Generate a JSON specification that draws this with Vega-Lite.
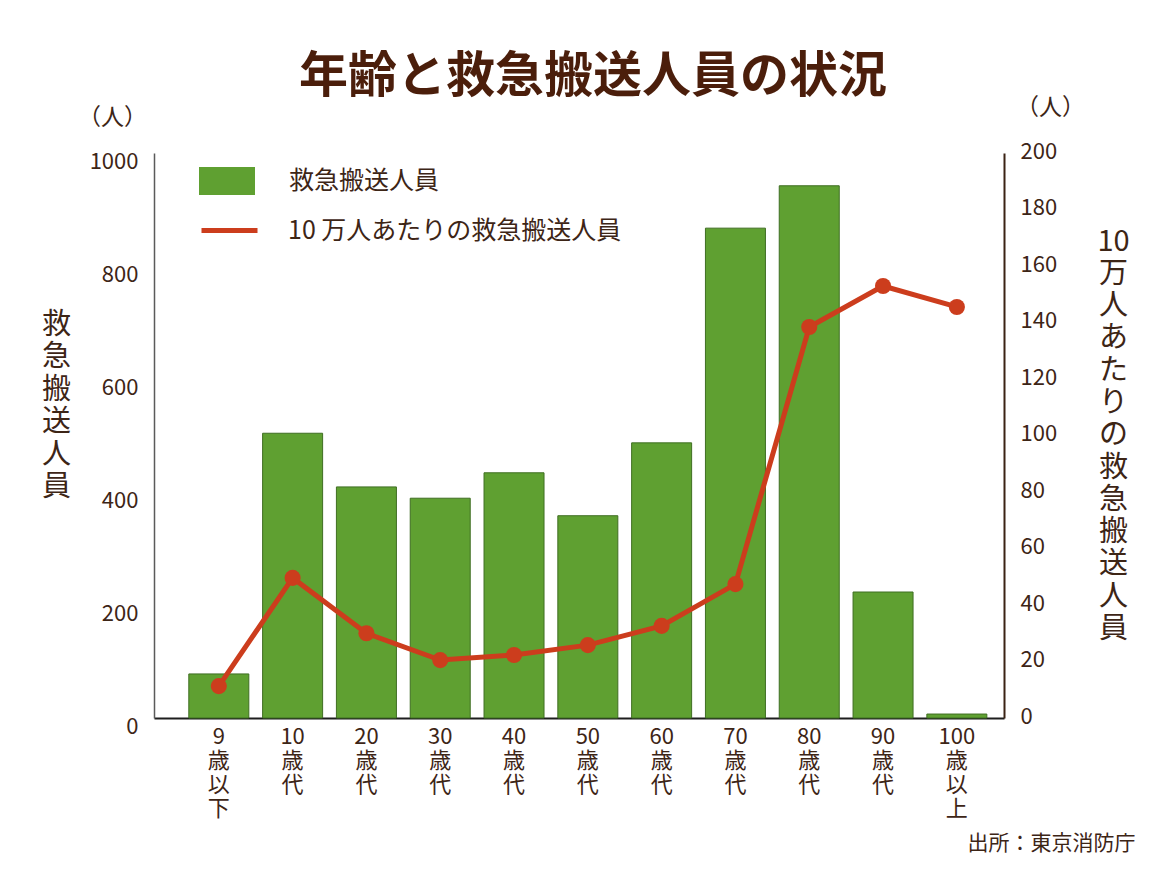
{
  "$schema": "https://vega.github.io/schema/vega-lite/v6.json",
  "width": 850,
  "height": 565,
  "autosize": {"type": "none"},
  "padding": {"left": 154, "top": 153, "right": 161, "bottom": 156},
  "background": "white",
  "config": {
    "font": "Noto Sans CJK JP",
    "view": {"stroke": null},
    "axis": {"grid": false, "ticks": false, "labelOverlap": false, "labelColor": "#3d2516", "titleColor": "#3d2516", "titleFontWeight": "normal"},
    "legend": {"labelColor": "#3d2516", "labelFontSize": 25, "labelLimit": 500, "title": null}
  },
  "title": {
    "text": "年齢と救急搬送人員の状況",
    "fontSize": 49,
    "fontWeight": "bold",
    "color": "#4b1e0b",
    "anchor": "middle",
    "dx": 14,
    "offset": -6
  },
  "data": {
    "values": [
      {"age": "9歳以下", "count": 78, "rate": 11.3},
      {"age": "10歳代", "count": 504, "rate": 49.6},
      {"age": "20歳代", "count": 409, "rate": 30},
      {"age": "30歳代", "count": 389, "rate": 20.5},
      {"age": "40歳代", "count": 434, "rate": 22.3},
      {"age": "50歳代", "count": 358, "rate": 25.8},
      {"age": "60歳代", "count": 487, "rate": 32.6},
      {"age": "70歳代", "count": 867, "rate": 47.4},
      {"age": "80歳代", "count": 942, "rate": 138.4},
      {"age": "90歳代", "count": 223, "rate": 152.9},
      {"age": "100歳以上", "count": 7, "rate": 145.5}
    ]
  },
  "encoding": {
    "x": {
      "field": "age",
      "type": "nominal",
      "sort": null,
      "scale": {"paddingInner": 0.187, "paddingOuter": 0.352, "align": 0.67},
      "axis": {
        "labelAngle": 0,
        "labelExpr": "split(replace(datum.label, regexp('([^0-9])', 'g'), '|$1'), '|')",
        "labelFontSize": 22,
        "labelLineHeight": 24,
        "labelPadding": 8,
        "labelBaseline": "top",
        "domainColor": "#1e1e1e",
        "domainWidth": 2,
        "title": "出所：東京消防庁",
        "titleFontSize": 21,
        "titleX": 981,
        "titleY": 125,
        "titleAlign": "right",
        "titleBaseline": "middle",
        "titleAnchor": null
      }
    }
  },
  "layer": [
    {
      "encoding": {
        "y": {"field": "count", "type": "quantitative", "scale": {"domain": [0, 1000], "nice": false}}
      },
      "layer": [
        {
          "mark": {"type": "bar", "strokeWidth": 0},
          "encoding": {
            "y": {
              "field": "count",
              "type": "quantitative",
              "axis": {
                "orient": "left",
                "values": [0, 200, 400, 600, 800, 1000],
                "format": "d",
                "labelFontSize": 22,
                "labelPadding": 16,
                "labelOffset": 8,
                "domainColor": "#5a5a5a",
                "domainWidth": 1.5,
                "title": "（人）",
                "titleAngle": 0,
                "titleFontSize": 23,
                "titleAlign": "center",
                "titleBaseline": "middle",
                "titleX": -42,
                "titleY": -36
              }
            },
            "fill": {
              "datum": "救急搬送人員",
              "type": "nominal",
              "scale": {"domain": ["救急搬送人員"], "range": ["#5fa031"]},
              "legend": {
                "orient": "none",
                "legendX": 59,
                "legendY": 14,
                "symbolType": "M-2,-1H2V1H-2Z",
                "symbolSize": 784,
                "symbolStrokeWidth": 0,
                "symbolOpacity": 1,
                "labelOffset": 48
              }
            }
          }
        },
        {
          "mark": {"type": "bar", "filled": false, "stroke": "#3f6e22", "strokeWidth": 1},
          "encoding": {
            "y": {
              "field": "count",
              "type": "quantitative",
              "axis": {
                "orient": "left",
                "labels": false,
                "domain": false,
                "title": ["救", "急", "搬", "送", "人", "員"],
                "titleAngle": 0,
                "titleFontSize": 29,
                "titleLineHeight": 32.5,
                "titleAlign": "center",
                "titleBaseline": "top",
                "titleX": -98,
                "titleY": 157
              }
            }
          }
        }
      ],
      "resolve": {"axis": {"y": "independent"}}
    },
    {
      "encoding": {
        "y": {"field": "rate", "type": "quantitative", "scale": {"domain": [0, 200], "nice": false}}
      },
      "layer": [
        {
          "mark": {"type": "line", "strokeWidth": 5},
          "encoding": {
            "y": {
              "field": "rate",
              "type": "quantitative",
              "axis": {
                "orient": "right",
                "values": [0, 20, 40, 60, 80, 100, 120, 140, 160, 180, 200],
                "labelFontSize": 22,
                "labelPadding": 16,
                "labelOffset": -2,
                "domainColor": "#3b2314",
                "domainWidth": 2,
                "title": "（人）",
                "titleAngle": 0,
                "titleFontSize": 23,
                "titleAlign": "center",
                "titleBaseline": "middle",
                "titleX": 46,
                "titleY": -46
              }
            },
            "stroke": {
              "datum": "10 万人あたりの救急搬送人員",
              "type": "nominal",
              "scale": {"domain": ["10 万人あたりの救急搬送人員"], "range": ["#cc3d1d"]},
              "legend": {
                "orient": "none",
                "legendX": 59,
                "legendY": 61,
                "symbolType": "M-2,0H2",
                "symbolSize": 784,
                "symbolStrokeWidth": 5,
                "symbolOpacity": 1,
                "labelOffset": 42
              }
            }
          }
        },
        {
          "mark": {"type": "point", "filled": true, "size": 260, "opacity": 1, "fill": "#cc3d1d", "stroke": null},
          "encoding": {
            "y": {
              "field": "rate",
              "type": "quantitative",
              "axis": {
                "orient": "right",
                "labels": false,
                "domain": false,
                "title": ["10", "万", "人", "あ", "た", "り", "の", "救", "急", "搬", "送", "人", "員"],
                "titleAngle": 0,
                "titleFontSize": 29,
                "titleLineHeight": 32.3,
                "titleAlign": "center",
                "titleBaseline": "top",
                "titleX": 109,
                "titleY": 74
              }
            }
          }
        }
      ],
      "resolve": {"axis": {"y": "independent"}}
    }
  ],
  "resolve": {"scale": {"y": "independent"}}
}
